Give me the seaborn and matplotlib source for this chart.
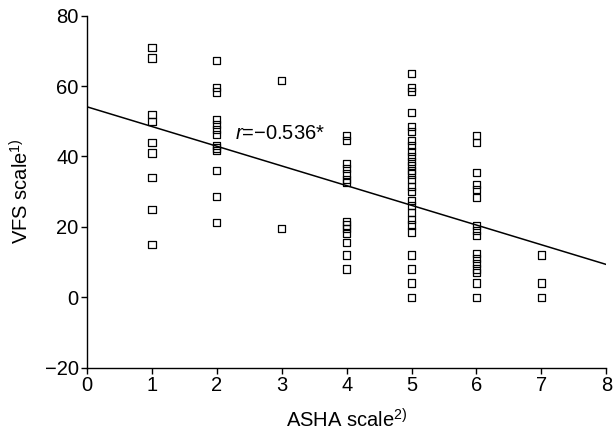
import numpy as np
import pandas as pd
import seaborn as sns
import matplotlib.pyplot as plt

# VFS scores, one list per ASHA grade
asha_1 = [71, 68, 52, 50, 44, 41, 34, 25, 15]
asha_2 = [67.3, 59.6, 58.3, 50.4, 49, 47.7, 46.3, 43.2, 42.4, 41.6, 35.9, 28.6, 21.2]
asha_3 = [61.5, 19.5]
asha_4 = [46, 44.5, 38, 36.5, 35, 33.5, 32.5, 21.5, 20.5, 19.5, 18, 15.5, 12, 8]
asha_5 = [63.5, 59.5, 58.5, 52.5, 48.5, 47, 44.5, 43, 41.5, 40, 38.5, 37.5, 36,
          35, 33.5, 31.5, 30, 27.5, 26, 24, 22, 20.5, 18.5, 12, 8, 4, 0]
asha_6 = [46, 44, 35.5, 32, 30.5, 28.3, 20.3, 19, 17.5, 12.5, 11, 9.5, 8, 7, 4, 0]
asha_7 = [12, 4, 0]

groups = [asha_1, asha_2, asha_3, asha_4, asha_5, asha_6, asha_7]

# regression line as printed in the figure (ends at x=0 and x=8)
fit_x = [0, 8]
fit_y = [54.1, 9.3]

x_ticks = [0, 1, 2, 3, 4, 5, 6, 7, 8]
y_ticks = [-20, 0, 20, 40, 60, 80]
r_label = r'$\mathit{r}$=−0.536*'

rows = []
for grade, vals in enumerate(groups, start=1):
    for v in vals:
        rows.append({'asha': grade, 'vfs': v})
df = pd.DataFrame(rows)
fit = pd.DataFrame({'asha': fit_x, 'vfs': fit_y})

sns.set_style('ticks')
plt.rcParams['font.family'] = ['Liberation Sans', 'DejaVu Sans']
plt.rcParams['mathtext.fontset'] = 'custom'
plt.rcParams['mathtext.rm'] = 'Liberation Sans'
plt.rcParams['mathtext.it'] = 'Liberation Sans:italic'
plt.rcParams['axes.unicode_minus'] = True
plt.rcParams['text.color'] = 'black'
plt.rcParams['axes.labelcolor'] = 'black'

fig = plt.figure(figsize=(6.13, 4.36), dpi=100)
ax = fig.add_axes([0.142, 0.157, 0.847, 0.807])

sns.scatterplot(data=df, x='asha', y='vfs', marker='s', s=27,
                facecolor='none', edgecolor='black', linewidth=0.9, ax=ax)
sns.lineplot(data=fit, x='asha', y='vfs', color='black', linewidth=1.1, ax=ax)

ax.set_xlim(0, 8)
ax.set_ylim(-20, 80)
ax.set_xticks(x_ticks)
ax.set_yticks(y_ticks)
ax.tick_params(direction='out', length=4, width=1, colors='black',
               labelsize=14.5, pad=2)
for side in ['top', 'right']:
    ax.spines[side].set_visible(False)
for side in ['left', 'bottom']:
    ax.spines[side].set_color('black')
    ax.spines[side].set_linewidth(1)

ax.set_xlabel(r'ASHA scale$^{\mathregular{2)}}$', fontsize=14.5, labelpad=10)
ax.set_ylabel(r'VFS scale$^{\mathregular{1)}}$', fontsize=14.5, labelpad=9)
ax.text(2.28, 46.5, r_label, fontsize=14.5, va='center', ha='left')

fig.savefig('out.png', dpi=100)
